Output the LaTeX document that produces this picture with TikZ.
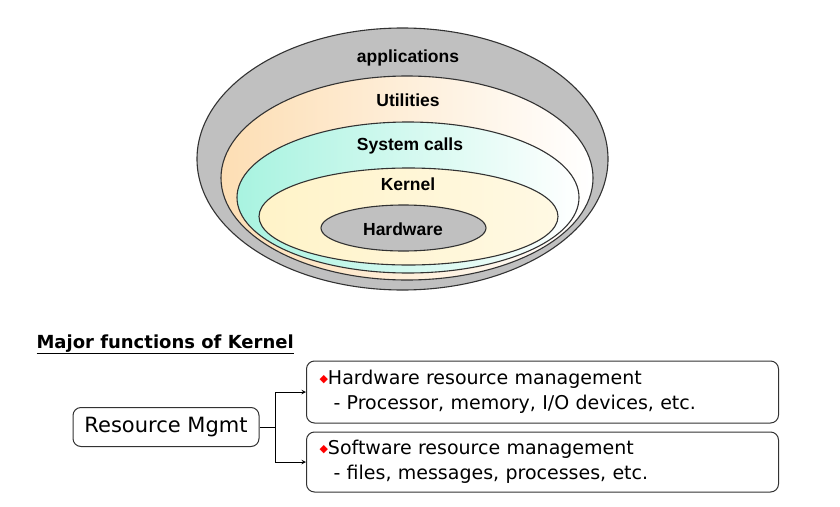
\documentclass[tikz,border=0pt]{standalone}
\usepackage{fontspec}
\setmainfont{Liberation Sans}
\newfontfamily\comicfont{DejaVu Sans}
\usepackage{tikz}
\usetikzlibrary{positioning}

\definecolor{shellgray}{RGB}{192,192,192}
\definecolor{utilorange}{RGB}{253,222,180}
\definecolor{syscyan}{RGB}{168,243,224}
\definecolor{kernyellow}{RGB}{255,243,200}
\definecolor{edge}{RGB}{50,50,50}

\newcommand{\reddot}{\raisebox{2pt}{\color{red}\fontsize{11}{11}\selectfont ◆}}

\begin{document}
\begin{tikzpicture}[x=1pt,y=-1pt,>=stealth,
  ring/.style={draw=edge,line width=1.1pt},
  lbl/.style={font=\fontsize{17.5}{19}\selectfont\bfseries},
  box/.style={draw=edge,line width=1pt,rounded corners=8pt,font=\comicfont\fontsize{19}{25}\selectfont}]
\useasboundingbox (0,0) rectangle (840,506);

% the layers
\draw[ring,fill=shellgray] (402.5,159) ellipse[x radius=205.5pt,y radius=131pt];
\draw[ring,left color=utilorange,right color=white] (407,178) ellipse[x radius=186pt,y radius=102pt];
\draw[ring,left color=syscyan,right color=white] (408,197.5) ellipse[x radius=171pt,y radius=75.5pt];
\draw[ring,left color=kernyellow,right color=kernyellow!50] (408.5,216.5) ellipse[x radius=149.5pt,y radius=48.5pt];
\draw[ring,fill=shellgray] (403.5,228) ellipse[x radius=82.5pt,y radius=23pt];

\node[lbl] (apps) at (408,58) {applications};
\node[lbl] (util) at (408,100) {Utilities};
\node[lbl] (calls) at (410,146) {System calls};
\node[lbl] (kern) at (408,184) {Kernel};
\node[lbl] (hw) at (403,229) {Hardware};

% kernel functions
\node[anchor=base west,font=\comicfont\bfseries\fontsize{18}{20}\selectfont] (title) at (33,348) {\underline{Major functions of Kernel}};
\node[box,minimum width=186pt,minimum height=39pt,font=\comicfont\fontsize{21}{24}\selectfont] (rm) at (166,427) {Resource Mgmt};
\node[box,anchor=west,minimum width=472pt,minimum height=62pt,text width=446pt,inner xsep=13pt,align=left] (hwm) at (306,392)
  {\reddot Hardware resource management\\\hspace*{14pt}- Processor, memory, I/O devices, etc.};
\node[box,anchor=west,minimum width=472pt,minimum height=60pt,text width=446pt,inner xsep=13pt,align=left] (swm) at (306,462)
  {\reddot Software resource management\\\hspace*{14pt}- files, messages, processes, etc.};

\draw[line width=1pt] (rm.east) -- ++(16,0) coordinate (fork);
\draw[line width=1pt,->] (fork) |- (hwm.west);
\draw[line width=1pt,->] (fork) |- (swm.west);
\end{tikzpicture}
\end{document}
